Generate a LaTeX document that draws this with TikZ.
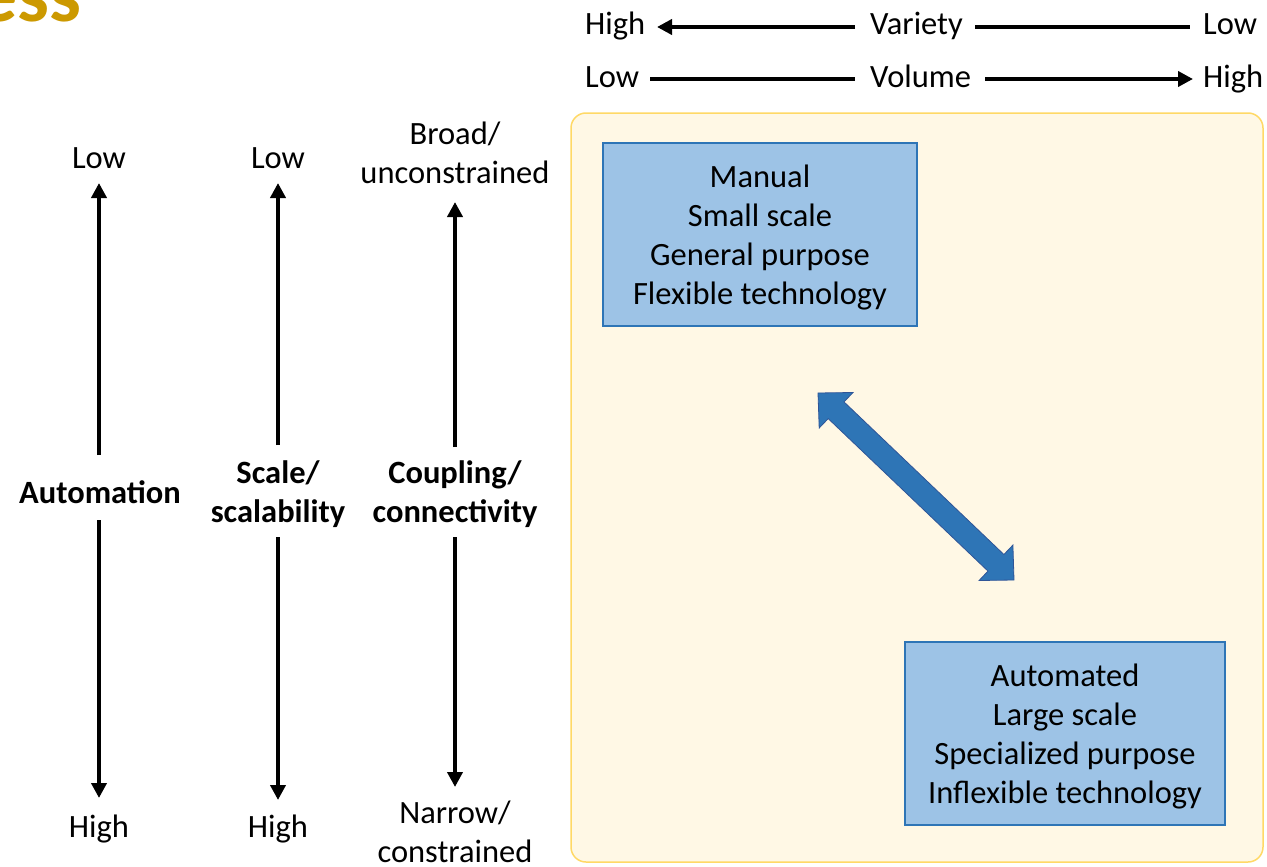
\documentclass[tikz,border=0pt]{standalone}
\usepackage{fontspec}
\setmainfont{Carlito}
\usetikzlibrary{arrows.meta}
\definecolor{titlegold}{RGB}{204,153,0}
\definecolor{cream}{RGB}{255,248,229}
\definecolor{creamedge}{RGB}{255,217,102}
\definecolor{boxblue}{RGB}{157,195,230}
\definecolor{boxedge}{RGB}{46,117,182}
\definecolor{arrowblue}{RGB}{46,117,182}
\definecolor{arrowedge}{RGB}{47,85,151}
\begin{document}
\begin{tikzpicture}[x=1pt,y=-1pt,
  lbl/.style={font=\fontsize{32.5}{39}\selectfont, inner sep=0pt, anchor=base, align=center},
  lblw/.style={lbl, anchor=base west},
  blbl/.style={lbl, font=\fontsize{32.5}{39}\selectfont\bfseries},
  axisline/.style={line width=4pt},
  axisarrow/.style={line width=4pt, -{Triangle[length=15pt,width=15pt]}},
  bluebox/.style={draw=boxedge, line width=1.2pt, fill=boxblue, inner sep=0pt,
    font=\fontsize{32.5}{39}\selectfont, align=center}]
\useasboundingbox (0,0) rectangle (1267,867);
\fill[white] (0,0) rectangle (1267,867);

% title fragment
\node[anchor=base east, inner sep=0pt, text=titlegold,
  font=\fontsize{80}{96}\selectfont\bfseries] (title) at (82,22) {ess};

% top scales
\node[lblw] (varhigh) at (585,35) {High};
\node[lblw] (variety) at (870,35) {Variety};
\node[lblw] (varlow) at (1203,35) {Low};
\node[lblw] (vollow) at (585,88) {Low};
\node[lblw] (volume) at (870,88) {Volume};
\node[lblw] (volhigh) at (1203,88) {High};
\coordinate (v1a) at (855,27); \coordinate (v1b) at (657,27);
\coordinate (v2a) at (975,27); \coordinate (v2b) at (1190,27);
\coordinate (w1a) at (650,79); \coordinate (w1b) at (855,79);
\coordinate (w2a) at (985,79); \coordinate (w2b) at (1193,79);
\draw[axisarrow] (v1a) -- (v1b);
\draw[axisline] (v2a) -- (v2b);
\draw[axisline] (w1a) -- (w1b);
\draw[axisarrow] (w2a) -- (w2b);

% left column 1
\node[lbl] (c1low) at (99,168) {Low};
\node[blbl] (auto) at (100,503) {Automation};
\node[lbl] (c1high) at (99,837) {High};
\coordinate (c1ts) at (99,455); \coordinate (c1te) at (99,183);
\coordinate (c1bs) at (99,520); \coordinate (c1be) at (99,798);
\draw[axisarrow] (c1ts) -- (c1te);
\draw[axisarrow] (c1bs) -- (c1be);

% left column 2 (base anchor = last line's baseline)
\node[lbl] (c2low) at (278,168) {Low};
\node[blbl] (scale) at (278,522) {Scale/\\scalability};
\node[lbl] (c2high) at (278,837) {High};
\coordinate (c2ts) at (278,445); \coordinate (c2te) at (278,183);
\coordinate (c2bs) at (278,537); \coordinate (c2be) at (278,800);
\draw[axisarrow] (c2ts) -- (c2te);
\draw[axisarrow] (c2bs) -- (c2be);

% left column 3
\node[lbl] (c3broad) at (455,183) {Broad/\\unconstrained};
\node[blbl] (coupling) at (455,522) {Coupling/\\connectivity};
\node[lbl] (c3narrow) at (455,862) {Narrow/\\constrained};
\coordinate (c3ts) at (455,447); \coordinate (c3te) at (455,202);
\coordinate (c3bs) at (455,537); \coordinate (c3be) at (455,787);
\draw[axisarrow] (c3ts) -- (c3te);
\draw[axisarrow] (c3bs) -- (c3be);

% background panel
\draw[fill=cream, draw=creamedge, line width=1.5pt, rounded corners=15pt]
  (571,113) rectangle (1263,862);

% boxes
\node[bluebox, minimum width=314pt, minimum height=183pt] (manual) at (760,234.5)
  {\rule{0pt}{28pt}Manual\\Small scale\\General purpose\\Flexible technology};
\node[bluebox, minimum width=320pt, minimum height=183pt] (autobox) at (1065,733.5)
  {\rule{0pt}{28pt}Automated\\Large scale\\Specialized purpose\\Inflexible technology};

% double block arrow
\filldraw[fill=arrowblue, draw=arrowedge, line width=0.8pt, line join=miter]
  (818,393) -- (853.0,392.5) -- (844.0,401.9) -- (1003.9,554.5) -- (1012.9,545.1)
  -- (1014,580) -- (979.1,580.5) -- (988.0,571.1) -- (828.2,418.6) -- (819.2,428.0) -- cycle;
\end{tikzpicture}
\end{document}
